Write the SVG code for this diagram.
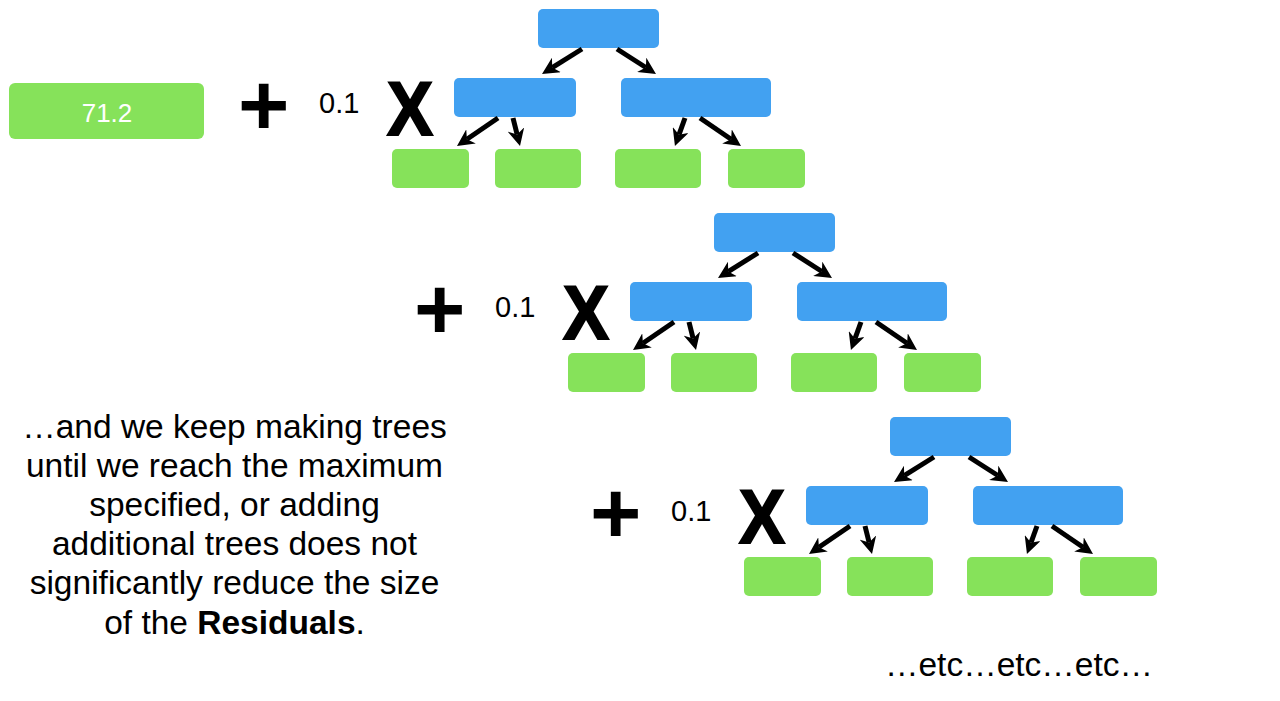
<svg xmlns="http://www.w3.org/2000/svg" width="1280" height="701" viewBox="0 0 1280 701">
<style>
.blue{fill:#42A1F1}
.green{fill:#86E25A}
.arr{stroke:#000;stroke-width:5;fill:none;marker-end:url(#ah)}
.plus{font-family:"Liberation Sans",Arial,sans-serif;font-weight:bold;font-size:88px;fill:#000}
.times{font-family:"Liberation Sans",Arial,sans-serif;font-weight:bold;font-size:76px;fill:#000;stroke:#000;stroke-width:2}
.coef{font-family:"Liberation Sans",Arial,sans-serif;font-size:29px;fill:#000}
.body{font-family:"Liberation Sans",Arial,sans-serif;font-size:33.5px;fill:#000;text-anchor:middle}
</style>
<defs>
<marker id="ah" viewBox="0 0 17 17" markerWidth="17" markerHeight="17" refX="5" refY="8.5" orient="auto" markerUnits="userSpaceOnUse">
<path d="M0,0 L17,8.5 L0,17 L5,8.5 z" fill="#000"/>
</marker>
</defs>
<rect width="1280" height="701" fill="#fff"/>

<g id="init">
<rect x="9" y="83" width="195" height="56" rx="6" class="green"/>
<text x="107" y="122" font-family="Liberation Sans,Arial,sans-serif" font-size="26" fill="#fff" text-anchor="middle">71.2</text>
</g>

<g id="term1">
<text class="plus" x="238" y="135">+</text>
<text class="coef" x="319" y="113">0.1</text>
<text class="times" x="387" y="135" textLength="46" lengthAdjust="spacingAndGlyphs">X</text>
</g>
<g id="term2" transform="translate(176,204)">
<text class="plus" x="238" y="135">+</text>
<text class="coef" x="319" y="113">0.1</text>
<text class="times" x="387" y="135" textLength="46" lengthAdjust="spacingAndGlyphs">X</text>
</g>
<g id="term3" transform="translate(352,408)">
<text class="plus" x="238" y="135">+</text>
<text class="coef" x="319" y="113">0.1</text>
<text class="times" x="387" y="135" textLength="46" lengthAdjust="spacingAndGlyphs">X</text>
</g>

<g id="tree1">
<g id="t1-root"><rect x="538" y="9" width="121" height="39" rx="5" class="blue"/></g>
<g id="t1-left"><rect x="454" y="78" width="122" height="39" rx="5" class="blue"/></g>
<g id="t1-right"><rect x="621" y="78" width="150" height="39" rx="5" class="blue"/></g>
<g id="t1-leaf1"><rect x="392" y="149" width="77" height="39" rx="5" class="green"/></g>
<g id="t1-leaf2"><rect x="495" y="149" width="86" height="39" rx="5" class="green"/></g>
<g id="t1-leaf3"><rect x="615" y="149" width="86" height="39" rx="5" class="green"/></g>
<g id="t1-leaf4"><rect x="728" y="149" width="77" height="39" rx="5" class="green"/></g>
</g>
<g id="tree2" transform="translate(176,204)">
<g id="t2-root"><rect x="538" y="9" width="121" height="39" rx="5" class="blue"/></g>
<g id="t2-left"><rect x="454" y="78" width="122" height="39" rx="5" class="blue"/></g>
<g id="t2-right"><rect x="621" y="78" width="150" height="39" rx="5" class="blue"/></g>
<g id="t2-leaf1"><rect x="392" y="149" width="77" height="39" rx="5" class="green"/></g>
<g id="t2-leaf2"><rect x="495" y="149" width="86" height="39" rx="5" class="green"/></g>
<g id="t2-leaf3"><rect x="615" y="149" width="86" height="39" rx="5" class="green"/></g>
<g id="t2-leaf4"><rect x="728" y="149" width="77" height="39" rx="5" class="green"/></g>
</g>
<g id="tree3" transform="translate(352,408)">
<g id="t3-root"><rect x="538" y="9" width="121" height="39" rx="5" class="blue"/></g>
<g id="t3-left"><rect x="454" y="78" width="122" height="39" rx="5" class="blue"/></g>
<g id="t3-right"><rect x="621" y="78" width="150" height="39" rx="5" class="blue"/></g>
<g id="t3-leaf1"><rect x="392" y="149" width="77" height="39" rx="5" class="green"/></g>
<g id="t3-leaf2"><rect x="495" y="149" width="86" height="39" rx="5" class="green"/></g>
<g id="t3-leaf3"><rect x="615" y="149" width="86" height="39" rx="5" class="green"/></g>
<g id="t3-leaf4"><rect x="728" y="149" width="77" height="39" rx="5" class="green"/></g>
</g>

<g id="connectors">
<g id="c1">
<line class="arr" x1="582" y1="49" x2="552.2" y2="67.6"/>
<line class="arr" x1="617" y1="49" x2="645.9" y2="67.5"/>
<line class="arr" x1="498" y1="118" x2="466.9" y2="139.2"/>
<line class="arr" x1="513" y1="118" x2="517.1" y2="134.4"/>
<line class="arr" x1="685" y1="118" x2="679.0" y2="134.7"/>
<line class="arr" x1="700" y1="118" x2="731.1" y2="139.2"/>
</g>
<g id="c2" transform="translate(176,204)">
<line class="arr" x1="582" y1="49" x2="552.2" y2="67.6"/>
<line class="arr" x1="617" y1="49" x2="645.9" y2="67.5"/>
<line class="arr" x1="498" y1="118" x2="466.9" y2="139.2"/>
<line class="arr" x1="513" y1="118" x2="517.1" y2="134.4"/>
<line class="arr" x1="685" y1="118" x2="679.0" y2="134.7"/>
<line class="arr" x1="700" y1="118" x2="731.1" y2="139.2"/>
</g>
<g id="c3" transform="translate(352,408)">
<line class="arr" x1="582" y1="49" x2="552.2" y2="67.6"/>
<line class="arr" x1="617" y1="49" x2="645.9" y2="67.5"/>
<line class="arr" x1="498" y1="118" x2="466.9" y2="139.2"/>
<line class="arr" x1="513" y1="118" x2="517.1" y2="134.4"/>
<line class="arr" x1="685" y1="118" x2="679.0" y2="134.7"/>
<line class="arr" x1="700" y1="118" x2="731.1" y2="139.2"/>
</g>
</g>

<g id="caption">
<text class="body" x="234.5" y="438">…and we keep making trees</text>
<text class="body" x="234.5" y="477">until we reach the maximum</text>
<text class="body" x="234.5" y="516">specified, or adding</text>
<text class="body" x="234.5" y="555">additional trees does not</text>
<text class="body" x="234.5" y="594">significantly reduce the size</text>
<text class="body" x="234.5" y="634">of the <tspan font-weight="bold">Residuals</tspan>.</text>
</g>
<g id="etc">
<text class="body" x="1019" y="676">…etc…etc…etc…</text>
</g>
</svg>
